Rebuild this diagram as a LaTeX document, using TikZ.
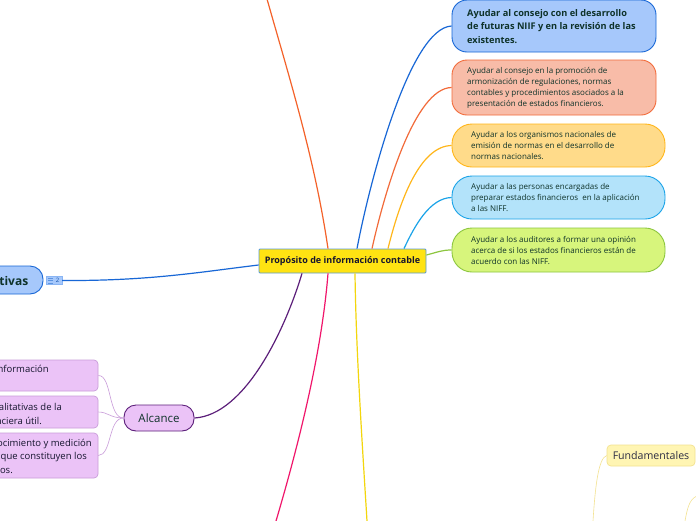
\documentclass[tikz,border=0pt]{standalone}
\usepackage{fontspec}
\setmainfont{Open Sans}
\definecolor{txt}{HTML}{0E3229}
\definecolor{ctxt}{HTML}{15152E}
\definecolor{bfill}{HTML}{A6C8FB}\definecolor{bline}{HTML}{1867D6}
\definecolor{rfill}{HTML}{F8BCA8}\definecolor{rline}{HTML}{F26B3A}
\definecolor{yfill}{HTML}{FFDB8A}\definecolor{yline}{HTML}{FFB61A}
\definecolor{lfill}{HTML}{B3E3FA}\definecolor{lline}{HTML}{1AA3E8}
\definecolor{gfill}{HTML}{D7F57C}\definecolor{gline}{HTML}{8DC63F}
\definecolor{cfill}{HTML}{FFE312}\definecolor{cline}{HTML}{5A9BD4}
\definecolor{pfill}{HTML}{EBC3F7}\definecolor{pline}{HTML}{5C1F7A}\definecolor{psub}{HTML}{C99CDA}
\definecolor{topor}{HTML}{F4622A}\definecolor{pink}{HTML}{F0166B}\definecolor{ymain}{HTML}{F3D60C}
\definecolor{ffill}{HTML}{FFF5B3}\definecolor{fline}{HTML}{F3E290}
\begin{document}
\begin{tikzpicture}[x=1pt,y=-1pt,
  shapebox/.style={draw, line width=0.9pt, inner sep=0pt},
  bigtxt/.style={anchor=west, inner sep=0pt, align=left, text=txt, font=\fontsize{9.2}{13.3}\selectfont\bfseries},
  smalltxt/.style={anchor=west, inner sep=0pt, align=left, text=txt, font=\fontsize{8}{11}\selectfont},
  subtxt/.style={anchor=base east, inner sep=0pt, text=ctxt, font=\fontsize{9.5}{13.5}\selectfont},
  conn/.style={line width=1.2pt},
  subconn/.style={line width=0.6pt, psub}
]
\useasboundingbox (0,0) rectangle (696,520);
\clip (0,0) rectangle (696,520);
\fill[white] (0,0) rectangle (696,520);

% central node
\node[shapebox, fill=cfill, draw=cline, line width=0.8pt, rounded corners=1pt, minimum width=167pt, minimum height=24pt] (c) at (342.5,261) {};
\node[inner sep=0pt, text=ctxt, font=\fontsize{9}{11}\selectfont\bfseries] (ct) at (c.center) {Propósito de información contable};

% right boxes
\node[shapebox, fill=bfill, draw=bline, rounded corners=15pt, minimum width=204pt, minimum height=52pt] (b1) at (554,26) {};
\node[bigtxt] (b1t) at (467,26.5) {Ayudar al consejo con el desarrollo\\de futuras NIIF y en la revisión de las\\existentes.};

\node[shapebox, fill=rfill, draw=rline, rounded corners=15pt, minimum width=204pt, minimum height=55pt] (b2) at (554,87.5) {};
\node[smalltxt] (b2t) at (467,88) {Ayudar al consejo en la promoción de\\armonización de regulaciones, normas\\contables y procedimientos asociados a la\\presentación de estados financieros.};

\node[shapebox, fill=yfill, draw=yline, rounded corners=20pt, minimum width=213pt, minimum height=43pt] (b3) at (558.5,145.5) {};
\node[smalltxt] (b3t) at (471,146) {Ayudar a los organismos nacionales de\\emisión de normas en el desarrollo de\\normas nacionales.};

\node[shapebox, fill=lfill, draw=lline, rounded corners=20pt, minimum width=213pt, minimum height=43pt] (b4) at (558.5,197.5) {};
\node[smalltxt] (b4t) at (471,198) {Ayudar a las personas encargadas de\\preparar estados financieros\ \ en la aplicación\\a las NIFF.};

\node[shapebox, fill=gfill, draw=gline, rounded corners=20pt, minimum width=213pt, minimum height=44pt] (b5) at (558.5,250) {};
\node[smalltxt] (b5t) at (471,250.5) {Ayudar a los auditores a formar una opinión\\acerca de si los estados financieros están de\\acuerdo con las NIFF.};

% right connectors
\draw[conn, bline] ([xshift=14.5pt]c.north) .. controls (370,180) and (410,28) .. (b1.west);
\draw[conn, rline] ([xshift=29.5pt]c.north) .. controls (385,190) and (415,88) .. (b2.west);
\draw[conn, yline] ([xshift=45.5pt]c.north) .. controls (400,200) and (420,146) .. (b3.west);
\draw[conn, lline] ([xshift=61.5pt]c.north) .. controls (415,225) and (430,198) .. (b4.west);
\draw[conn, gline] ([yshift=6pt]c.east) .. controls (438,252) and (442,250) .. (b5.west);

% top orange and bottom branches (to off-picture nodes)
\coordinate (topend) at (267,-1);
\coordinate (pinkend) at (276,521);
\coordinate (yend) at (367,521);
\draw[conn, topor] ([xshift=-14.5pt]c.north) .. controls (315,160) and (290,80) .. (topend);
\draw[conn, pink] ([xshift=-14.5pt]c.south) .. controls (322,350) and (300,440) .. (pinkend);
\draw[conn, ymain] ([xshift=12.5pt]c.south) .. controls (356,350) and (362,440) .. (yend);

% left blue node
\node[shapebox, fill=bfill, draw=bline, rounded corners=13pt, minimum width=90pt, minimum height=28pt] (lb) at (-2,280) {};
\node[inner sep=0pt, anchor=base east, text=txt, font=\fontsize{12}{14}\selectfont\bfseries] (lbt) at (28.5,285) {Cualitativas};
\node[draw=bfill!80!bline, fill=bfill, line width=0.4pt, minimum width=16pt, minimum height=8pt, inner sep=0pt] (badge) at (54,280.5) {};
\draw[line width=0.6pt, bline!70] (48,278) -- (52.5,278) (48,280.5) -- (52.5,280.5) (48,283) -- (52.5,283);
\node[inner sep=0pt, text=bline!80!black, font=\fontsize{6}{6}\selectfont] (badget) at (57.5,280.8) {2};
\draw[conn, bline] (badge.east) .. controls (150,281) and (200,272) .. ([yshift=-4pt]c.west);

% Alcance
\node[shapebox, fill=pfill, draw=pline, rounded corners=12pt, minimum width=70pt, minimum height=26pt] (al) at (159,418) {};
\node[inner sep=0pt, text=txt, font=\fontsize{11.5}{13}\selectfont] (alt) at (al.center) {Alcance};
\draw[conn, pline] ([xshift=-40.5pt]c.south) .. controls (285,330) and (245,415) .. (al.east);

% sub nodes of Alcance
\node[shapebox, fill=pfill, draw=psub, line width=0.7pt, rounded corners=4pt, minimum width=150pt, minimum height=31pt] (s1) at (23,375.5) {};
\node[subtxt] (s1t) at (49,372.5) {información};
\node[shapebox, fill=pfill, draw=psub, line width=0.7pt, rounded corners=4pt, minimum width=150pt, minimum height=32pt] (s2) at (23,412) {};
\node[subtxt] (s2a) at (62,410) {cualitativas de la};
\node[subtxt] (s2b) at (42,424) {financiera útil.};
\node[shapebox, fill=pfill, draw=psub, line width=0.7pt, rounded corners=4pt, minimum width=150pt, minimum height=45pt] (s3) at (23,455.5) {};
\node[subtxt] (s3a) at (92,446) {reconocimiento y medición};
\node[subtxt] (s3b) at (87,459.5) {que constituyen los};
\node[subtxt] (s3c) at (13,473) {financieros.};
\draw[subconn] (al.west) .. controls (108,418) and (112,375) .. (s1.east);
\draw[subconn] (al.west) .. controls (110,418) and (108,412) .. (s2.east);
\draw[subconn] (al.west) .. controls (108,418) and (112,455) .. (s3.east);

% Fundamentales
\node[shapebox, fill=ffill, draw=fline, line width=0.7pt, rounded corners=4pt, minimum width=88pt, minimum height=21pt] (fu) at (651,455.5) {};
\node[inner sep=0pt, text=ctxt!90, font=\fontsize{10.6}{12}\selectfont] (fut) at (fu.center) {Fundamentales};
\coordinate (fend) at (593,521);
\coordinate (o1) at (697,496);
\coordinate (o2) at (685,521);
\draw[line width=0.6pt, fline] (fu.west) .. controls (598,458) and (595,490) .. (fend);
\draw[line width=0.6pt, fline] (o1) .. controls (689,499) and (687,510) .. (o2);
\end{tikzpicture}
\end{document}
